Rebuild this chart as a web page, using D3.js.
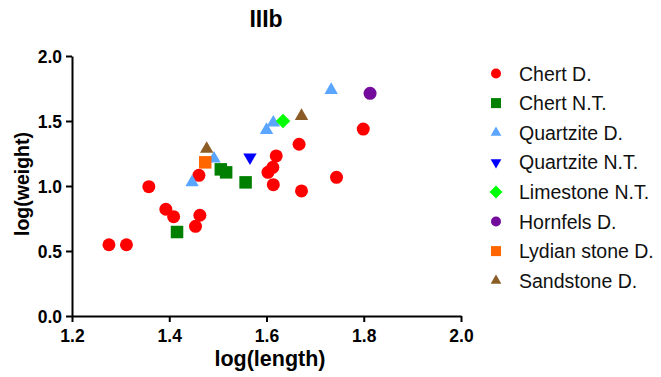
<!DOCTYPE html>
<html><head><meta charset="utf-8">
<script src="https://cdn.jsdelivr.net/npm/d3@7"></script>
<style>body{margin:0;background:#fff}svg{display:block}text{font-family:"Liberation Sans",Arial,sans-serif}</style>
</head><body>
<script>
const seriesNames = ["Chert D.","Chert N.T.","Quartzite D.","Quartzite N.T.","Limestone N.T.","Hornfels D.","Lydian stone D.","Sandstone D."];
const seriesColors = ["#ff0000","#007f00","#5aa5ff","#0000ff","#00ff00","#730c9c","#ff6600","#8c5c26"];
const seriesShapes = ["circle","square","triangle","triangleDown","diamond","circle","square","triangle"];
const chertD_x = [1.276,1.312,1.358,1.393,1.409,1.454,1.463,1.461,1.620,1.613,1.603,1.614,1.667,1.672,1.744,1.799];
const chertD_y = [0.548,0.548,0.995,0.821,0.764,0.690,0.775,1.082,1.231,1.144,1.105,1.010,1.321,0.962,1.067,1.438];
const chertNT_x = [1.416,1.506,1.517,1.557];
const chertNT_y = [0.646,1.128,1.105,1.028];
const quartziteD_x = [1.447,1.492,1.600,1.614,1.733];
const quartziteD_y = [1.028,1.210,1.430,1.487,1.738];
const quartziteNT_x = [1.566];
const quartziteNT_y = [1.221];
const limestoneNT_x = [1.634];
const limestoneNT_y = [1.500];
const hornfelsD_x = [1.813];
const hornfelsD_y = [1.713];
const lydianD_x = [1.474];
const lydianD_y = [1.182];
const sandstoneD_x = [1.477,1.672];
const sandstoneD_y = [1.285,1.538];
const xTicks = [1.2,1.4,1.6,1.8,2.0];
const yTicks = [0.0,0.5,1.0,1.5,2.0];

const seriesX = [chertD_x,chertNT_x,quartziteD_x,quartziteNT_x,limestoneNT_x,hornfelsD_x,lydianD_x,sandstoneD_x];
const seriesY = [chertD_y,chertNT_y,quartziteD_y,quartziteNT_y,limestoneNT_y,hornfelsD_y,lydianD_y,sandstoneD_y];

const W = 661, H = 377;
const FONT = '"Liberation Sans",Arial,sans-serif';
const svg = d3.select("body").append("svg").attr("width", W).attr("height", H);
const x = d3.scaleLinear().domain([1.2, 2.0]).range([72, 461]);
const y = d3.scaleLinear().domain([0, 2.0]).range([316, 56]);

function symPath(shape, size) {
  const t = {circle: d3.symbolCircle, square: d3.symbolSquare, triangle: d3.symbolTriangle,
             triangleDown: d3.symbolTriangle, diamond: d3.symbolSquare}[shape];
  return d3.symbol().type(t).size(size)();
}
function sizeFor(shape, s) {
  if (shape === "circle") return Math.PI * (s/2) * (s/2);
  if (shape === "square") return s * s;
  if (shape === "diamond") return (s / Math.SQRT2) * (s / Math.SQRT2);
  return s * s * Math.sqrt(3) / 4 * 1.15;
}
function transformFor(shape, cx, cy) {
  if (shape === "triangleDown") return `translate(${cx},${cy}) rotate(180)`;
  if (shape === "diamond") return `translate(${cx},${cy}) rotate(45)`;
  return `translate(${cx},${cy})`;
}

// title
svg.append("text").attr("x", 266).attr("y", 27).attr("text-anchor", "middle")
  .style("font-size", "23px").style("font-weight", "bold").style("font-family", FONT).text("IIIb");

// axes
const xAxis = svg.append("g").attr("transform", "translate(0,316)")
  .call(d3.axisBottom(x).tickValues(xTicks).tickFormat(d3.format(".1f")).tickSize(6).tickSizeOuter(0));
const yAxis = svg.append("g").attr("transform", "translate(72,0)")
  .call(d3.axisLeft(y).tickValues(yTicks).tickFormat(d3.format(".1f")).tickSize(6).tickSizeOuter(0));
[xAxis, yAxis].forEach(a => {
  a.attr("font-size", null).attr("font-family", null);
  a.selectAll("path.domain").attr("stroke", "#000").attr("stroke-width", 2);
  a.selectAll(".tick line").attr("stroke", "#000").attr("stroke-width", 2);
  a.selectAll(".tick text").style("font-size", "17.5px").style("font-weight", "bold")
    .style("font-family", FONT).attr("fill", "#000");
});
xAxis.selectAll(".tick text").attr("y", 26).attr("dy", null);
yAxis.selectAll(".tick text").attr("x", -10).attr("dy", "0.36em");

svg.append("text").attr("x", 270).attr("y", 366).attr("text-anchor", "middle")
  .style("font-size", "21.5px").style("font-weight", "bold").style("font-family", FONT).text("log(length)");
svg.append("text").attr("transform", "translate(29,184) rotate(-90)").attr("text-anchor", "middle")
  .style("font-size", "19.5px").style("font-weight", "bold").style("font-family", FONT).text("log(weight)");

// points
seriesNames.forEach((name, i) => {
  const shape = seriesShapes[i];
  const pts = seriesX[i].map((vx, k) => [vx, seriesY[i][k]]);
  svg.append("g").selectAll("path").data(pts).join("path")
    .attr("d", symPath(shape, sizeFor(shape, shape === "circle" ? 13 : (shape === "diamond" ? 14.5 : 12.5))))
    .attr("transform", d => transformFor(shape, x(d[0]), y(d[1])))
    .attr("fill", seriesColors[i]);
});

// legend
const leg = svg.append("g");
seriesNames.forEach((name, i) => {
  const shape = seriesShapes[i];
  const cy = 73.5 + i * 29.6;
  leg.append("path").attr("d", symPath(shape, sizeFor(shape, shape === "diamond" ? 13 : 10)))
    .attr("transform", transformFor(shape, 496, cy)).attr("fill", seriesColors[i]);
  leg.append("text").attr("x", 519).attr("y", cy).attr("dy", "0.36em")
    .style("font-size", "19.5px").style("font-family", FONT).attr("fill", "#111").text(name);
});
</script>
</body></html>
